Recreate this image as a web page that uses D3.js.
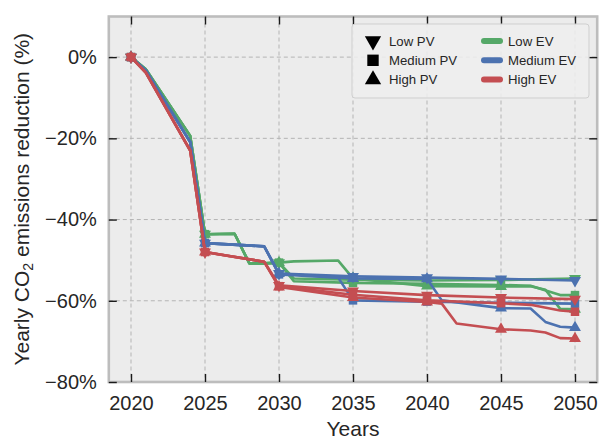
<!DOCTYPE html>
<html>
<head>
<meta charset="utf-8">
<script src="https://cdn.jsdelivr.net/npm/d3@7"></script>
<style>
  html, body { margin: 0; padding: 0; background: #ffffff; }
  svg { display: block; font-family: "Liberation Sans", Arial, Helvetica, sans-serif; }
</style>
</head>
<body>
<svg id="chart" width="600" height="440"></svg>
<script>
// ---------------- data ----------------
const xTicks = [2020, 2025, 2030, 2035, 2040, 2045, 2050];
const yTicks = [0, -20, -40, -60, -80];
const pvLabels = ["Low PV", "Medium PV", "High PV"];
const evLabels = ["Low EV", "Medium EV", "High EV"];
const evColors = ["#55a868", "#4c72b0", "#c44e52"];

// [year, % reduction]
const lowEV_lowPV = [[2020,0],[2021,-3.0],[2024,-19.4],[2025,-43.6],[2027,-43.5],[2028,-50.8],[2029,-50.8],[2030,-50.6],[2031,-54.5],[2035,-54.8],[2040,-55.0],[2045,-54.9],[2050,-54.5]];
const lowEV_medPV = [[2020,0],[2021,-3.0],[2024,-19.4],[2025,-43.6],[2027,-43.5],[2028,-50.8],[2029,-50.8],[2030,-50.6],[2031,-55.2],[2035,-55.6],[2040,-55.8],[2045,-56.1],[2047,-56.3],[2049,-58.6],[2050,-58.6]];
const lowEV_highPV = [[2020,0],[2021,-3.0],[2024,-19.4],[2025,-43.6],[2027,-43.5],[2028,-50.8],[2029,-50.8],[2030,-50.6],[2031,-50.3],[2034,-50.1],[2035,-54.5],[2040,-56.4],[2045,-56.5],[2047,-56.4],[2048,-57.3],[2049,-62.0],[2050,-62.1]];

const medEV_lowPV = [[2020,0],[2021,-3.3],[2024,-20.9],[2025,-45.8],[2029,-46.6],[2030,-53.3],[2035,-54.0],[2040,-54.3],[2045,-54.6],[2050,-55.0]];
const medEV_medPV = [[2020,0],[2021,-3.3],[2024,-20.9],[2025,-45.8],[2029,-46.6],[2030,-53.5],[2034,-54.3],[2035,-59.9],[2040,-60.2],[2045,-60.5],[2050,-60.7]];
const medEV_highPV = [[2020,0],[2021,-3.3],[2024,-20.9],[2025,-45.8],[2029,-46.6],[2030,-53.3],[2035,-54.5],[2040,-54.6],[2041,-59.9],[2045,-61.8],[2047,-61.9],[2048,-65.2],[2049,-66.4],[2050,-66.6]];

const highEV_lowPV = [[2020,0],[2021,-3.8],[2024,-23.0],[2025,-48.0],[2029,-50.4],[2030,-56.2],[2035,-57.6],[2040,-58.6],[2045,-59.2],[2050,-59.6]];
const highEV_medPV = [[2020,0],[2021,-3.8],[2024,-23.0],[2025,-48.0],[2029,-50.4],[2030,-56.4],[2035,-58.5],[2040,-59.9],[2045,-60.6],[2047,-61.0],[2049,-62.4],[2050,-62.7]];
const highEV_highPV = [[2020,0],[2021,-3.8],[2024,-23.0],[2025,-48.0],[2029,-50.4],[2030,-56.6],[2035,-59.2],[2040,-60.3],[2041,-60.7],[2042,-65.6],[2045,-67.0],[2047,-67.3],[2048,-67.8],[2049,-69.2],[2050,-69.3]];

// drawing order (EV outer, PV inner: low, high, medium)
const series = [
  {ev:0, pv:0, pts: lowEV_lowPV},
  {ev:0, pv:2, pts: lowEV_highPV},
  {ev:0, pv:1, pts: lowEV_medPV},
  {ev:1, pv:0, pts: medEV_lowPV},
  {ev:1, pv:2, pts: medEV_highPV},
  {ev:1, pv:1, pts: medEV_medPV},
  {ev:2, pv:0, pts: highEV_lowPV},
  {ev:2, pv:2, pts: highEV_highPV},
  {ev:2, pv:1, pts: highEV_medPV}
];

// ---------------- layout ----------------
const svg = d3.select("#chart");
const L = 108.8, R = 597.2, T = 16.5, B = 382;
const x = d3.scaleLinear().domain([2018.5, 2051.5]).range([L, R]);
const y = d3.scaleLinear().domain([-80, 10]).range([B, T]);
const textColor = "#262626";

// background
svg.append("rect").attr("x", L).attr("y", T).attr("width", R - L).attr("height", B - T)
  .attr("fill", "#ececec");

// grid
const grid = svg.append("g");
grid.selectAll(".gx").data(xTicks).join("line")
  .attr("x1", d => x(d)).attr("x2", d => x(d)).attr("y1", T).attr("y2", B)
  .attr("stroke", "#b4b4b4").attr("stroke-width", 1).attr("stroke-dasharray", "4,3");
grid.selectAll(".gy").data(yTicks).join("line")
  .attr("x1", L).attr("x2", R).attr("y1", d => y(d)).attr("y2", d => y(d))
  .attr("stroke", "#b4b4b4").attr("stroke-width", 1).attr("stroke-dasharray", "4,3");

// marker shapes
const markerSymbol = [d3.symbolTriangle, d3.symbolSquare, d3.symbolTriangle];
const markerRotate = [180, 0, 0];
const markerSize = [62, 72, 62];

const line = d3.line().x(d => x(d[0])).y(d => y(d[1]));
const plot = svg.append("g");
series.forEach(s => {
  const g = plot.append("g");
  g.append("path").datum(s.pts).attr("d", line)
    .attr("fill", "none").attr("stroke", evColors[s.ev]).attr("stroke-width", 2.6)
    .attr("stroke-linejoin", "round").attr("stroke-linecap", "round");
  const mk = s.pts.filter(p => xTicks.includes(p[0]));
  g.selectAll("path.m").data(mk).join("path").attr("class", "m")
    .attr("d", d3.symbol().type(markerSymbol[s.pv]).size(markerSize[s.pv]))
    .attr("transform", d => `translate(${x(d[0])},${y(d[1])}) rotate(${markerRotate[s.pv]})`)
    .attr("fill", evColors[s.ev]);
});

// frame
svg.append("rect").attr("x", L).attr("y", T).attr("width", R - L).attr("height", B - T)
  .attr("fill", "none").attr("stroke", "#bdbdbd").attr("stroke-width", 2.6);

// axes with inward ticks
const tickLen = 8;
const xAxisB = d3.axisBottom(x).tickValues(xTicks).tickFormat(d3.format("d")).tickSizeInner(-tickLen).tickSizeOuter(0).tickPadding(14);
const gxb = svg.append("g").attr("transform", `translate(0,${B})`).call(xAxisB);
const xAxisT = d3.axisTop(x).tickValues(xTicks).tickFormat("").tickSizeInner(-tickLen).tickSizeOuter(0);
const gxt = svg.append("g").attr("transform", `translate(0,${T})`).call(xAxisT);
const yFmt = d => (d === 0 ? "0%" : "\u2212" + Math.abs(d) + "%");
const yAxisL = d3.axisLeft(y).tickValues(yTicks).tickFormat(yFmt).tickSizeInner(-tickLen).tickSizeOuter(0).tickPadding(12);
const gyl = svg.append("g").attr("transform", `translate(${L},0)`).call(yAxisL);
const yAxisR = d3.axisRight(y).tickValues(yTicks).tickFormat("").tickSizeInner(-tickLen).tickSizeOuter(0);
const gyr = svg.append("g").attr("transform", `translate(${R},0)`).call(yAxisR);
[gxb, gxt, gyl, gyr].forEach(g => {
  g.select(".domain").remove();
  g.selectAll(".tick line").attr("stroke", "#1a1a1a").attr("stroke-width", 1.4);
  g.selectAll(".tick text").attr("fill", textColor).attr("font-size", 20)
    .attr("font-family", "'Liberation Sans', Arial, sans-serif");
});
gxb.selectAll(".tick text").attr("dy", "0.71em");

// axis labels
svg.append("text").attr("x", (L + R) / 2).attr("y", 436).attr("text-anchor", "middle")
  .attr("font-size", 21).attr("fill", textColor).text("Years");
const yl = svg.append("text").attr("transform", `translate(29,${(T + B) / 2}) rotate(-90)`)
  .attr("text-anchor", "middle").attr("font-size", 21).attr("fill", textColor);
yl.append("tspan").text("Yearly CO");
yl.append("tspan").attr("font-size", 14).attr("dy", 4).text("2");
yl.append("tspan").attr("dy", -4).text(" emissions reduction (%)");

// legend
const lg = svg.append("g");
lg.append("rect").attr("x", 352).attr("y", 24).attr("width", 237).attr("height", 74)
  .attr("rx", 3).attr("fill", "#efefef").attr("fill-opacity", 0.85)
  .attr("stroke", "#cfcfcf").attr("stroke-width", 1);
const rowY = [41, 60.3, 79.6];
pvLabels.forEach((lab, i) => {
  lg.append("path").attr("d", d3.symbol().type(markerSymbol[i]).size(i === 1 ? 130 : 115))
    .attr("transform", `translate(373,${rowY[i]}) rotate(${markerRotate[i]})`)
    .attr("fill", "#000");
  lg.append("text").attr("x", 389).attr("y", rowY[i]).attr("dy", "0.36em")
    .attr("font-size", 13.2).attr("fill", textColor).text(lab);
});
evLabels.forEach((lab, i) => {
  lg.append("line").attr("x1", 484).attr("x2", 500).attr("y1", rowY[i]).attr("y2", rowY[i])
    .attr("stroke", evColors[i]).attr("stroke-width", 6).attr("stroke-linecap", "round");
  lg.append("text").attr("x", 508).attr("y", rowY[i]).attr("dy", "0.36em")
    .attr("font-size", 13.2).attr("fill", textColor).text(lab);
});
</script>
</body>
</html>
